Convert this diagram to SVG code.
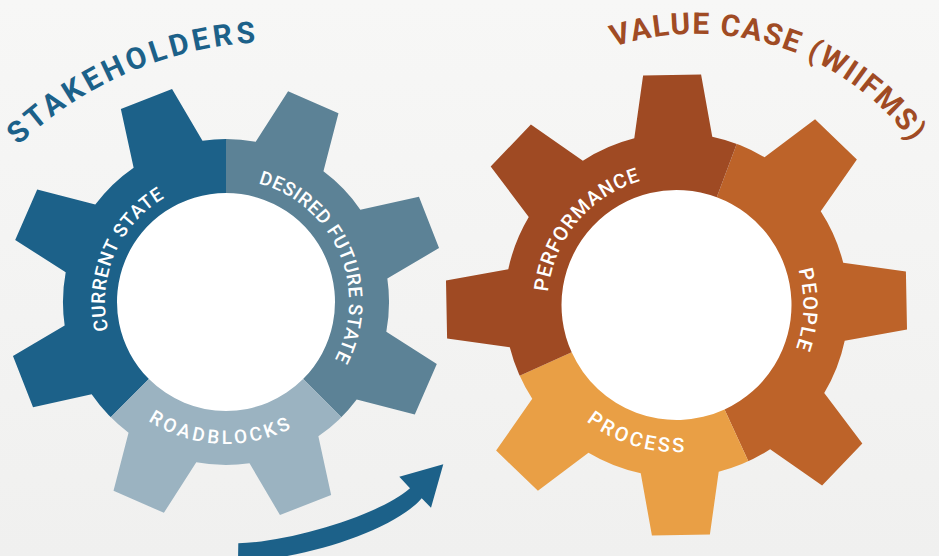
<svg xmlns="http://www.w3.org/2000/svg" xmlns:xlink="http://www.w3.org/1999/xlink" width="939" height="556" viewBox="0 0 939 556">
<defs>
<linearGradient id="bg" x1="0" y1="0" x2="0" y2="1">
<stop offset="0" stop-color="#f7f7f6"/>
<stop offset="1" stop-color="#f0f0ef"/>
</linearGradient>
<path id="gearShape" d="M-39,-167.5 L-29,-230 L29,-230 L39,-167.5 A172,172 0 0 1 90.86,-146.02 L142.12,-183.14 L183.14,-142.12 L146.02,-90.86 A172,172 0 0 1 167.5,-39 L230,-29 L230,29 L167.5,39 A172,172 0 0 1 146.02,90.86 L183.14,142.12 L142.12,183.14 L90.86,146.02 A172,172 0 0 1 39,167.5 L29,230 L-29,230 L-39,167.5 A172,172 0 0 1 -90.86,146.02 L-142.12,183.14 L-183.14,142.12 L-146.02,90.86 A172,172 0 0 1 -167.5,39 L-230,29 L-230,-29 L-167.5,-39 A172,172 0 0 1 -146.02,-90.86 L-183.14,-142.12 L-142.12,-183.14 L-90.86,-146.02 A172,172 0 0 1 -39,-167.5 Z"/>
<clipPath id="clipL"><use xlink:href="#gearShape" href="#gearShape" transform="rotate(23.6) scale(0.948)"/></clipPath>
<clipPath id="clipR"><use xlink:href="#gearShape" href="#gearShape" transform="rotate(-1.1)"/></clipPath>
<path id="pCurrent" d="M-65.9,101.5 A121,121 0 0 1 27.2,-117.9"/>
<path id="pDesired" d="M-28.7,-119.6 A123,123 0 0 1 67.9,102.6"/>
<path id="pRoad" d="M-140.9,17.3 A142,142 0 0 0 138.4,31.9"/>
<path id="pPerf" d="M-98.5,83.4 A129,129 0 0 1 64.0,-112.0"/>
<path id="pPeople" d="M26.1,-124.3 A127,127 0 0 1 18.0,125.7"/>
<path id="pProcess" d="M-145.8,-18.9 A147,147 0 0 0 130.5,67.7"/>
<path id="pStake" d="M-58.4,249.4 A375,375 0 0 1 383.8,57.5"/>
<path id="pValue" d="M458.8,177.2 A268,268 0 0 1 961.6,338.1"/>
<style>
.lbl{font-family:Roboto,"Liberation Sans",sans-serif;font-weight:500;fill:#ffffff;text-anchor:middle}
.ttl{font-family:Roboto,"Liberation Sans",sans-serif;font-weight:700;font-size:30px;text-anchor:middle}
.hole{fill:#ffffff}
</style>
</defs>
<rect x="0" y="0" width="939" height="556" fill="url(#bg)"/>

<text class="ttl" fill="#1c6189" textLength="264" lengthAdjust="spacing"><textPath xlink:href="#pStake" href="#pStake" startOffset="50%">STAKEHOLDERS</textPath></text>
<text class="ttl" fill="#a04b24" textLength="334" lengthAdjust="spacing"><textPath xlink:href="#pValue" href="#pValue" startOffset="50%">VALUE CASE (WIIFMS)</textPath></text>

<g id="gear-stakeholders" transform="translate(226,302)">
<circle class="hole" r="110"/>
<g clip-path="url(#clipL)">
<g id="current-state"><path fill="#1c6189" d="M-169.71,169.71 A240,240 0 0 1 0,-240 L0,-109 A109,109 0 0 0 -77.07,77.07 Z"/></g>
<g id="desired-future-state"><path fill="#5c8296" d="M0,-240 A240,240 0 0 1 169.71,169.71 L77.07,77.07 A109,109 0 0 0 0,-109 Z"/></g>
<g id="roadblocks"><path fill="#9bb3c1" d="M169.71,169.71 A240,240 0 0 1 -169.71,169.71 L-77.07,77.07 A109,109 0 0 0 77.07,77.07 Z"/></g>
</g>
<text class="lbl" font-size="19" textLength="154" lengthAdjust="spacing"><textPath xlink:href="#pCurrent" href="#pCurrent" startOffset="50%">CURRENT STATE</textPath></text>
<text class="lbl" font-size="19" textLength="220" lengthAdjust="spacing"><textPath xlink:href="#pDesired" href="#pDesired" startOffset="50%">DESIRED FUTURE STATE</textPath></text>
<text class="lbl" font-size="19" textLength="150" lengthAdjust="spacing"><textPath xlink:href="#pRoad" href="#pRoad" startOffset="50%">ROADBLOCKS</textPath></text>
</g>

<g id="gear-value-case" transform="translate(676.5,305)">
<circle class="hole" r="116"/>
<g clip-path="url(#clipR)">
<g id="people"><path fill="#bd6329" d="M84.05,-224.81 A240,240 0 0 1 100.30,218.04 L48.06,104.48 A115,115 0 0 0 40.27,-107.72 Z"/></g>
<g id="process"><path fill="#e99f45" d="M100.30,218.04 A240,240 0 0 1 -218.74,98.76 L-104.81,47.32 A115,115 0 0 0 48.06,104.48 Z"/></g>
<g id="performance"><path fill="#9f4a23" d="M-218.74,98.76 A240,240 0 0 1 84.05,-224.81 L40.27,-107.72 A115,115 0 0 0 -104.81,47.32 Z"/></g>
</g>
<text class="lbl" font-size="20" textLength="153" lengthAdjust="spacing"><textPath xlink:href="#pPerf" href="#pPerf" startOffset="50%">PERFORMANCE</textPath></text>
<text class="lbl" font-size="20" textLength="80" lengthAdjust="spacing"><textPath xlink:href="#pPeople" href="#pPeople" startOffset="50%">PEOPLE</textPath></text>
<text class="lbl" font-size="20" textLength="105" lengthAdjust="spacing"><textPath xlink:href="#pProcess" href="#pProcess" startOffset="50%">PROCESS</textPath></text>
</g>

<g id="connectors">
<path fill="#1c6189" d="M238.3,543.3 C290,542 380,515 410,488.3 L399.3,476.7 L443.3,464.3 L431,507.7 L421.7,498.3 C395,530 300,561 238,561 Z"/>
</g>
</svg>
